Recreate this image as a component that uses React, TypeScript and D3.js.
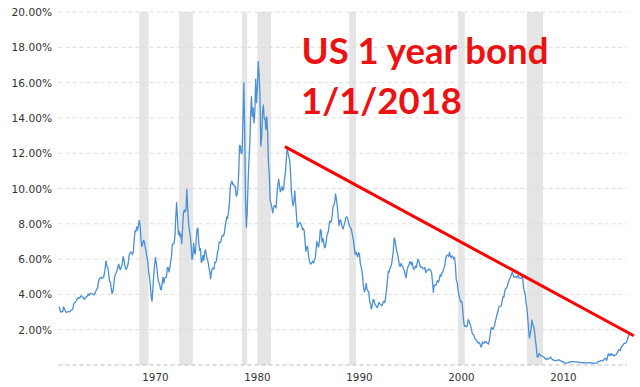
import React from "react";
import * as d3 from "d3";

const START_YEAR = 1962;
// Monthly 1-year Treasury yields (%)
const rates1960s = [
  3.28, 3.28, 3.06, 2.99, 3.03, 3.03, 3.29, 3.2, 3.06, 2.98, 3.0, 3.01,
  3.04, 3.01, 3.03, 3.11, 3.12, 3.2, 3.48, 3.53, 3.57, 3.64, 3.74, 3.81,
  3.79, 3.78, 3.91, 3.91, 3.84, 3.83, 3.72, 3.74, 3.84, 3.86, 3.91, 4.02,
  3.94, 4.03, 4.06, 4.04, 4.03, 3.99, 3.98, 4.07, 4.2, 4.3, 4.37, 4.72,
  4.88, 4.94, 4.97, 4.9, 4.93, 4.97, 5.17, 5.54, 5.9, 5.58, 5.54, 5.2,
  4.75, 4.71, 4.35, 4.05, 4.15, 4.48, 5.01, 5.13, 5.24, 5.37, 5.61, 5.71,
  5.43, 5.41, 5.58, 5.71, 6.14, 5.98, 5.65, 5.43, 5.45, 5.57, 5.75, 6.19,
  6.34, 6.41, 6.34, 6.26, 6.42, 7.04, 7.6, 7.54, 7.82, 7.64, 7.89, 8.2,
];
const rates1970s = [
  7.91, 7.16, 6.71, 6.85, 7.06, 6.99, 6.66, 6.44, 6.12, 5.9, 5.28, 5.0,
  4.57, 3.89, 3.62, 4.3, 5.04, 5.64, 6.1, 5.8, 5.41, 4.91, 4.67, 4.6,
  4.28, 4.27, 4.67, 4.96, 4.64, 4.93, 4.96, 4.98, 5.52, 5.52, 5.27, 5.52,
  5.89, 6.19, 6.85, 6.85, 6.89, 7.31, 8.39, 9.2, 8.31, 7.4, 7.57, 7.27,
  7.42, 6.88, 7.76, 8.62, 8.78, 8.67, 8.8, 9.95, 8.87, 8.05, 7.66, 7.31,
  6.83, 5.98, 6.11, 6.9, 6.39, 6.29, 7.11, 7.7, 7.75, 6.95, 6.49, 6.6,
  5.81, 5.91, 6.21, 5.92, 6.4, 6.52, 6.2, 6.0, 5.84, 5.5, 5.29, 4.89,
  5.29, 5.47, 5.5, 5.44, 5.84, 5.8, 5.94, 6.37, 6.53, 6.97, 6.95, 6.96,
  7.28, 7.34, 7.31, 7.45, 7.82, 8.09, 8.39, 8.31, 8.64, 9.14, 10.01, 10.3,
  10.41, 10.24, 10.25, 10.12, 10.12, 9.57, 9.64, 9.98, 10.84, 12.44, 12.39, 11.98,
];
const rates1980s = [
  12.06, 13.92, 16.0, 13.3, 9.39, 7.8, 8.65, 10.24, 11.52, 12.49, 14.15, 15.2,
  14.08, 14.57, 13.71, 14.32, 16.2, 14.86, 15.72, 17.2, 16.52, 15.38, 12.41, 12.85,
  14.32, 14.73, 13.95, 13.98, 13.34, 14.07, 13.24, 11.43, 10.85, 9.32, 9.16, 8.91,
  8.62, 8.92, 9.04, 8.98, 8.9, 9.66, 10.2, 10.53, 10.16, 9.81, 9.94, 10.11,
  9.9, 10.04, 10.59, 10.9, 11.66, 12.3, 12.03, 11.82, 11.58, 10.9, 9.82, 9.33,
  9.02, 9.29, 9.86, 9.14, 8.46, 7.8, 7.86, 8.05, 8.07, 8.01, 7.88, 7.67,
  7.73, 7.61, 7.03, 6.44, 6.65, 6.73, 6.27, 5.93, 5.77, 5.72, 5.8, 5.87,
  5.78, 5.96, 6.03, 6.5, 7.0, 6.8, 6.68, 7.03, 7.67, 7.59, 6.96, 7.17,
  6.99, 6.64, 6.71, 7.01, 7.4, 7.49, 7.75, 8.17, 8.09, 8.11, 8.48, 8.99,
  9.05, 9.25, 9.7, 9.36, 8.98, 8.44, 7.89, 8.18, 8.22, 7.99, 7.77, 7.72,
];
const rates1990s = [
  7.92, 8.11, 8.35, 8.4, 8.32, 8.1, 7.94, 7.78, 7.76, 7.55, 7.31, 7.05,
  6.64, 6.27, 6.4, 6.24, 6.13, 6.36, 6.31, 5.78, 5.57, 5.33, 4.89, 4.38,
  4.15, 4.29, 4.63, 4.3, 4.19, 4.17, 3.6, 3.47, 3.18, 3.3, 3.68, 3.71,
  3.5, 3.39, 3.33, 3.24, 3.36, 3.54, 3.47, 3.44, 3.36, 3.39, 3.58, 3.61,
  3.54, 3.87, 4.32, 4.82, 5.31, 5.27, 5.48, 5.56, 5.76, 6.11, 6.54, 7.2,
  7.05, 6.7, 6.43, 6.27, 6.0, 5.64, 5.59, 5.75, 5.62, 5.59, 5.43, 5.31,
  5.09, 4.94, 5.34, 5.54, 5.64, 5.81, 5.85, 5.67, 5.83, 5.55, 5.42, 5.47,
  5.61, 5.53, 5.8, 5.99, 5.87, 5.69, 5.54, 5.56, 5.52, 5.46, 5.46, 5.53,
  5.24, 5.31, 5.39, 5.38, 5.44, 5.41, 5.36, 5.21, 4.71, 4.12, 4.53, 4.52,
  4.51, 4.7, 4.78, 4.69, 4.85, 5.1, 5.03, 5.2, 5.25, 5.43, 5.55, 5.84,
];
const rates2000s = [
  6.12, 6.22, 6.22, 6.15, 6.4, 6.17, 6.08, 6.18, 6.13, 6.01, 6.09, 5.6,
  4.81, 4.68, 4.3, 3.98, 3.78, 3.58, 3.62, 3.47, 2.82, 2.33, 2.18, 2.22,
  2.16, 2.23, 2.57, 2.48, 2.35, 2.2, 1.96, 1.76, 1.72, 1.65, 1.49, 1.45,
  1.36, 1.3, 1.24, 1.27, 1.18, 1.01, 1.12, 1.31, 1.24, 1.25, 1.34, 1.31,
  1.24, 1.24, 1.19, 1.43, 1.78, 2.12, 2.1, 2.02, 2.12, 2.23, 2.5, 2.67,
  2.86, 3.03, 3.3, 3.32, 3.33, 3.36, 3.64, 3.87, 3.85, 4.18, 4.33, 4.35,
  4.45, 4.68, 4.77, 4.9, 5.0, 5.16, 5.25, 5.08, 4.97, 5.01, 5.01, 4.94,
  5.06, 5.05, 4.92, 4.93, 4.91, 4.96, 4.96, 4.47, 4.14, 4.1, 3.5, 3.26,
  2.71, 2.05, 1.54, 1.74, 2.06, 2.55, 2.28, 2.18, 1.91, 1.42, 1.07, 0.49,
  0.44, 0.62, 0.64, 0.55, 0.5, 0.51, 0.48, 0.46, 0.4, 0.37, 0.31, 0.37,
];
const rates2010s = [
  0.35, 0.35, 0.4, 0.45, 0.37, 0.32, 0.29, 0.26, 0.26, 0.23, 0.25, 0.29,
  0.27, 0.29, 0.26, 0.25, 0.19, 0.18, 0.19, 0.11, 0.1, 0.11, 0.11, 0.12,
  0.12, 0.16, 0.19, 0.18, 0.19, 0.19, 0.19, 0.18, 0.18, 0.18, 0.18, 0.16,
  0.15, 0.16, 0.15, 0.12, 0.12, 0.14, 0.12, 0.13, 0.12, 0.12, 0.12, 0.13,
  0.12, 0.12, 0.13, 0.11, 0.1, 0.1, 0.11, 0.11, 0.11, 0.1, 0.13, 0.21,
  0.2, 0.22, 0.25, 0.23, 0.24, 0.28, 0.3, 0.38, 0.37, 0.26, 0.48, 0.65,
  0.54, 0.53, 0.66, 0.56, 0.59, 0.55, 0.51, 0.57, 0.59, 0.66, 0.74, 0.87,
  0.83, 0.82, 1.01, 1.04, 1.12, 1.2, 1.22, 1.23, 1.28, 1.4, 1.56, 1.7,
  1.8,
];

const recessionStarts = [1969.92, 1973.83, 1980.0, 1981.5, 1990.5, 2001.17, 2007.92];
const recessionEnds = [1970.83, 1975.17, 1980.5, 1982.83, 1991.17, 2001.83, 2009.5];

const yTicks = [0, 2, 4, 6, 8, 10, 12, 14, 16, 18, 20];
const yTickLabels = ["", "2.00%", "4.00%", "6.00%", "8.00%", "10.00%", "12.00%", "14.00%", "16.00%", "18.00%", "20.00%"];
const xTicks = [1970, 1980, 1990, 2000, 2010];
const xTickLabels = ["1970", "1980", "1990", "2000", "2010"];

const trendYears = [1984.2, 2018.4];
const trendValues = [12.37, 1.66];

const titleLines = ["US 1 year bond", "1/1/2018"];

export default function App() {
  const W = 640;
  const H = 387;
  const left = 58.5;
  const right = 629.7;
  const top = 12;
  const bottom = 365;

  const x = d3.scaleLinear().domain([1962, 2018]).range([left, right]);
  const y = d3.scaleLinear().domain([0, 20]).range([bottom, top]);

  const all = [...rates1960s, ...rates1970s, ...rates1980s, ...rates1990s, ...rates2000s, ...rates2010s];
  const series = all.map((v, i) => ({ t: START_YEAR + i / 12, v }));

  const line = d3
    .line<{ t: number; v: number }>()
    .x((d) => x(d.t))
    .y((d) => y(d.v));

  const trend = d3
    .line<number>()
    .x((_, i) => x(trendYears[i]))
    .y((d) => y(d));

  const font = "'DejaVu Sans', Verdana, sans-serif";
  const titleFont = "Lato, 'Liberation Sans', Arial, sans-serif";

  return (
    <svg
      width={W}
      height={H}
      style={{ position: "absolute", left: 0, top: 0, background: "#fff" }}
    >
      {recessionStarts.map((s, i) => (
        <rect
          key={"r" + i}
          x={x(s)}
          y={top}
          width={x(recessionEnds[i]) - x(s)}
          height={bottom - top}
          fill="#e5e5e5"
        />
      ))}
      {yTicks.map((t, i) => (
        <g key={"y" + i}>
          <line
            x1={left}
            x2={627}
            y1={y(t)}
            y2={y(t)}
            stroke={t === 0 ? "#bbbbbb" : "#dddddd"}
            strokeWidth={1}
            strokeDasharray="4,3"
          />
          <text
            x={52}
            y={y(t) + 4}
            textAnchor="end"
            fontFamily={font}
            fontSize={10.6}
            fill="#333"
          >
            {yTickLabels[i]}
          </text>
        </g>
      ))}
      {xTicks.map((t, i) => (
        <text
          key={"x" + i}
          x={x(t + 1.5)}
          y={381}
          textAnchor="middle"
          fontFamily={font}
          fontSize={10.3}
          fill="#333"
        >
          {xTickLabels[i]}
        </text>
      ))}
      <path d={line(series) || ""} fill="none" stroke="#4a90d9" strokeWidth={1.3} strokeLinejoin="round" />
      <path d={trend(trendValues) || ""} fill="none" stroke="#ff0000" strokeWidth={3} />
      <text
        x={301.5}
        y={63.5}
        fontFamily={titleFont}
        fontWeight="bold"
        fontSize={37}
        fill="#ee1111"
        textLength={247}
        lengthAdjust="spacingAndGlyphs"
      >
        {titleLines[0]}
      </text>
      <text
        x={301}
        y={114}
        fontFamily={titleFont}
        fontWeight="bold"
        fontSize={37}
        fill="#ee1111"
        textLength={161}
        lengthAdjust="spacingAndGlyphs"
      >
        {titleLines[1]}
      </text>
    </svg>
  );
}
